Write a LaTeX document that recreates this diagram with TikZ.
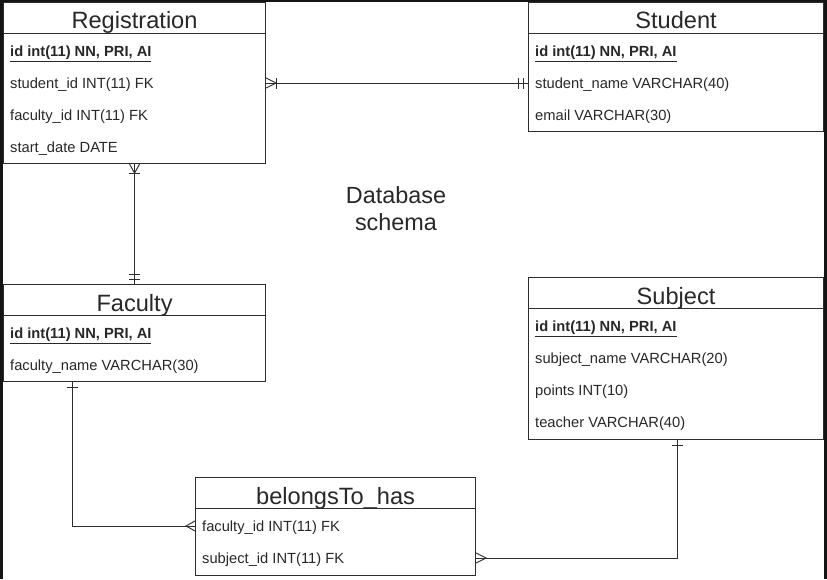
\documentclass[tikz,border=0pt]{standalone}
\usepackage{fontspec}
\setmainfont{Liberation Sans}
\usetikzlibrary{calc}
\definecolor{ln}{RGB}{45,45,45}
\definecolor{tx}{RGB}{40,40,40}
\definecolor{fr}{RGB}{20,20,20}
\begin{document}
\begin{tikzpicture}[x=1pt,y=-1pt,
  tbl/.style={draw=ln, line width=1.1pt, rectangle, anchor=north west, inner sep=0pt},
  ttl/.style={anchor=base, text=tx, font=\fontsize{23.6}{27}\selectfont, inner sep=0pt},
  fld/.style={anchor=base west, text=tx, font=\fontsize{14.7}{17}\selectfont, inner sep=0pt},
  conn/.style={draw=ln, line width=0.95pt},
  hdrline/.style={draw=ln, line width=1.1pt},
  lbl/.style={text=tx, font=\fontsize{23.4}{27}\selectfont, align=center, inner sep=0pt}]
\useasboundingbox (0,0) rectangle (827,579);
\fill[white] (0,0) rectangle (827,579);

% Registration
\node[tbl, minimum width=262pt, minimum height=161pt] (reg) at (3,2) {};
\draw[hdrline] ($(reg.north west)+(0,31.5)$) -- ($(reg.north east)+(0,31.5)$);
\node[ttl] (regT) at ($(reg.north)+(0,26)$) {Registration};
\node[fld] (reg1) at ($(reg.north west)+(7,54.5)$) {\underline{\textbf{id int(11) NN, PRI, AI}}};
\node[fld] (reg2) at ($(reg.north west)+(7,86.5)$) {student\_id INT(11) FK};
\node[fld] (reg3) at ($(reg.north west)+(7,118.5)$) {faculty\_id INT(11) FK};
\node[fld] (reg4) at ($(reg.north west)+(7,150.5)$) {start\_date DATE};

% Student
\node[tbl, minimum width=295pt, minimum height=129pt] (stu) at (528,2) {};
\draw[hdrline] ($(stu.north west)+(0,31.5)$) -- ($(stu.north east)+(0,31.5)$);
\node[ttl] (stuT) at ($(stu.north)+(0,26)$) {Student};
\node[fld] (stu1) at ($(stu.north west)+(7,54.5)$) {\underline{\textbf{id int(11) NN, PRI, AI}}};
\node[fld] (stu2) at ($(stu.north west)+(7,86.5)$) {student\_name VARCHAR(40)};
\node[fld] (stu3) at ($(stu.north west)+(7,118.5)$) {email VARCHAR(30)};

% Faculty
\node[tbl, minimum width=262pt, minimum height=97pt] (fac) at (3,284) {};
\draw[hdrline] ($(fac.north west)+(0,31.5)$) -- ($(fac.north east)+(0,31.5)$);
\node[ttl] (facT) at ($(fac.north)+(0,27)$) {Faculty};
\node[fld] (fac1) at ($(fac.north west)+(7,54.5)$) {\underline{\textbf{id int(11) NN, PRI, AI}}};
\node[fld] (fac2) at ($(fac.north west)+(7,86.5)$) {faculty\_name VARCHAR(30)};

% Subject
\node[tbl, minimum width=295pt, minimum height=162pt] (sub) at (528,277) {};
\draw[hdrline] ($(sub.north west)+(0,31.5)$) -- ($(sub.north east)+(0,31.5)$);
\node[ttl] (subT) at ($(sub.north)+(0,27)$) {Subject};
\node[fld] (sub1) at ($(sub.north west)+(7,54.5)$) {\underline{\textbf{id int(11) NN, PRI, AI}}};
\node[fld] (sub2) at ($(sub.north west)+(7,86.5)$) {subject\_name VARCHAR(20)};
\node[fld] (sub3) at ($(sub.north west)+(7,118.5)$) {points INT(10)};
\node[fld] (sub4) at ($(sub.north west)+(7,150.5)$) {teacher VARCHAR(40)};

% belongsTo_has
\node[tbl, minimum width=280pt, minimum height=98pt] (bel) at (195,477) {};
\draw[hdrline] ($(bel.north west)+(0,31.5)$) -- ($(bel.north east)+(0,31.5)$);
\node[ttl] (belT) at ($(bel.north)+(0,27)$) {belongsTo\_has};
\node[fld] (bel1) at ($(bel.north west)+(7,54.5)$) {faculty\_id INT(11) FK};
\node[fld] (bel2) at ($(bel.north west)+(7,86.5)$) {subject\_id INT(11) FK};

% label
\node[lbl] (title) at (396,209) {Database\\schema};

% Registration -- Student
\coordinate (a1) at ($(reg.east |- reg2.base)+(0,-5.5)$);
\coordinate (b1) at (stu.west |- a1);
\draw[conn] (a1) -- (b1);
\draw[conn] ($(a1)+(0,-5)$) -- ($(a1)+(10,0)$) -- ($(a1)+(0,5)$);
\draw[conn] ($(a1)+(10,-5.5)$) -- ($(a1)+(10,5.5)$);
\draw[conn] ($(b1)+(-5,-5.5)$) -- ($(b1)+(-5,5.5)$);
\draw[conn] ($(b1)+(-10,-5.5)$) -- ($(b1)+(-10,5.5)$);

% Registration -- Faculty
\draw[conn] (reg.south) -- (fac.north);
\draw[conn] ($(reg.south)+(-5,0)$) -- ($(reg.south)+(0,9)$) -- ($(reg.south)+(5,0)$);
\draw[conn] ($(reg.south)+(-5.5,9)$) -- ($(reg.south)+(5.5,9)$);
\draw[conn] ($(fac.north)+(-5.5,-5)$) -- ($(fac.north)+(5.5,-5)$);
\draw[conn] ($(fac.north)+(-5.5,-10)$) -- ($(fac.north)+(5.5,-10)$);

% Faculty -- belongsTo_has
\coordinate (a3) at ($(fac.south west)+(69,0)$);
\coordinate (b3) at ($(bel.west |- bel1.base)+(0,-5.5)$);
\draw[conn] (a3) |- (b3);
\draw[conn] ($(a3)+(-5.5,5)$) -- ($(a3)+(5.5,5)$);
\draw[conn] ($(b3)+(0,-5)$) -- ($(b3)+(-9,0)$) -- ($(b3)+(0,5)$);

% Subject -- belongsTo_has
\coordinate (a4) at ($(sub.south west)+(149,0)$);
\coordinate (b4) at ($(bel.east |- bel2.base)+(0,-5.5)$);
\draw[conn] (a4) |- (b4);
\draw[conn] ($(a4)+(-5.5,5)$) -- ($(a4)+(5.5,5)$);
\draw[conn] ($(b4)+(0,-5)$) -- ($(b4)+(10,0)$) -- ($(b4)+(0,5)$);

% screenshot frame
\fill[fr] (0,0) rectangle (2.7,579);
\fill[fr] (0,0) rectangle (827,2);
\fill[fr] (824.3,0) rectangle (827,579);
\end{tikzpicture}
\end{document}
